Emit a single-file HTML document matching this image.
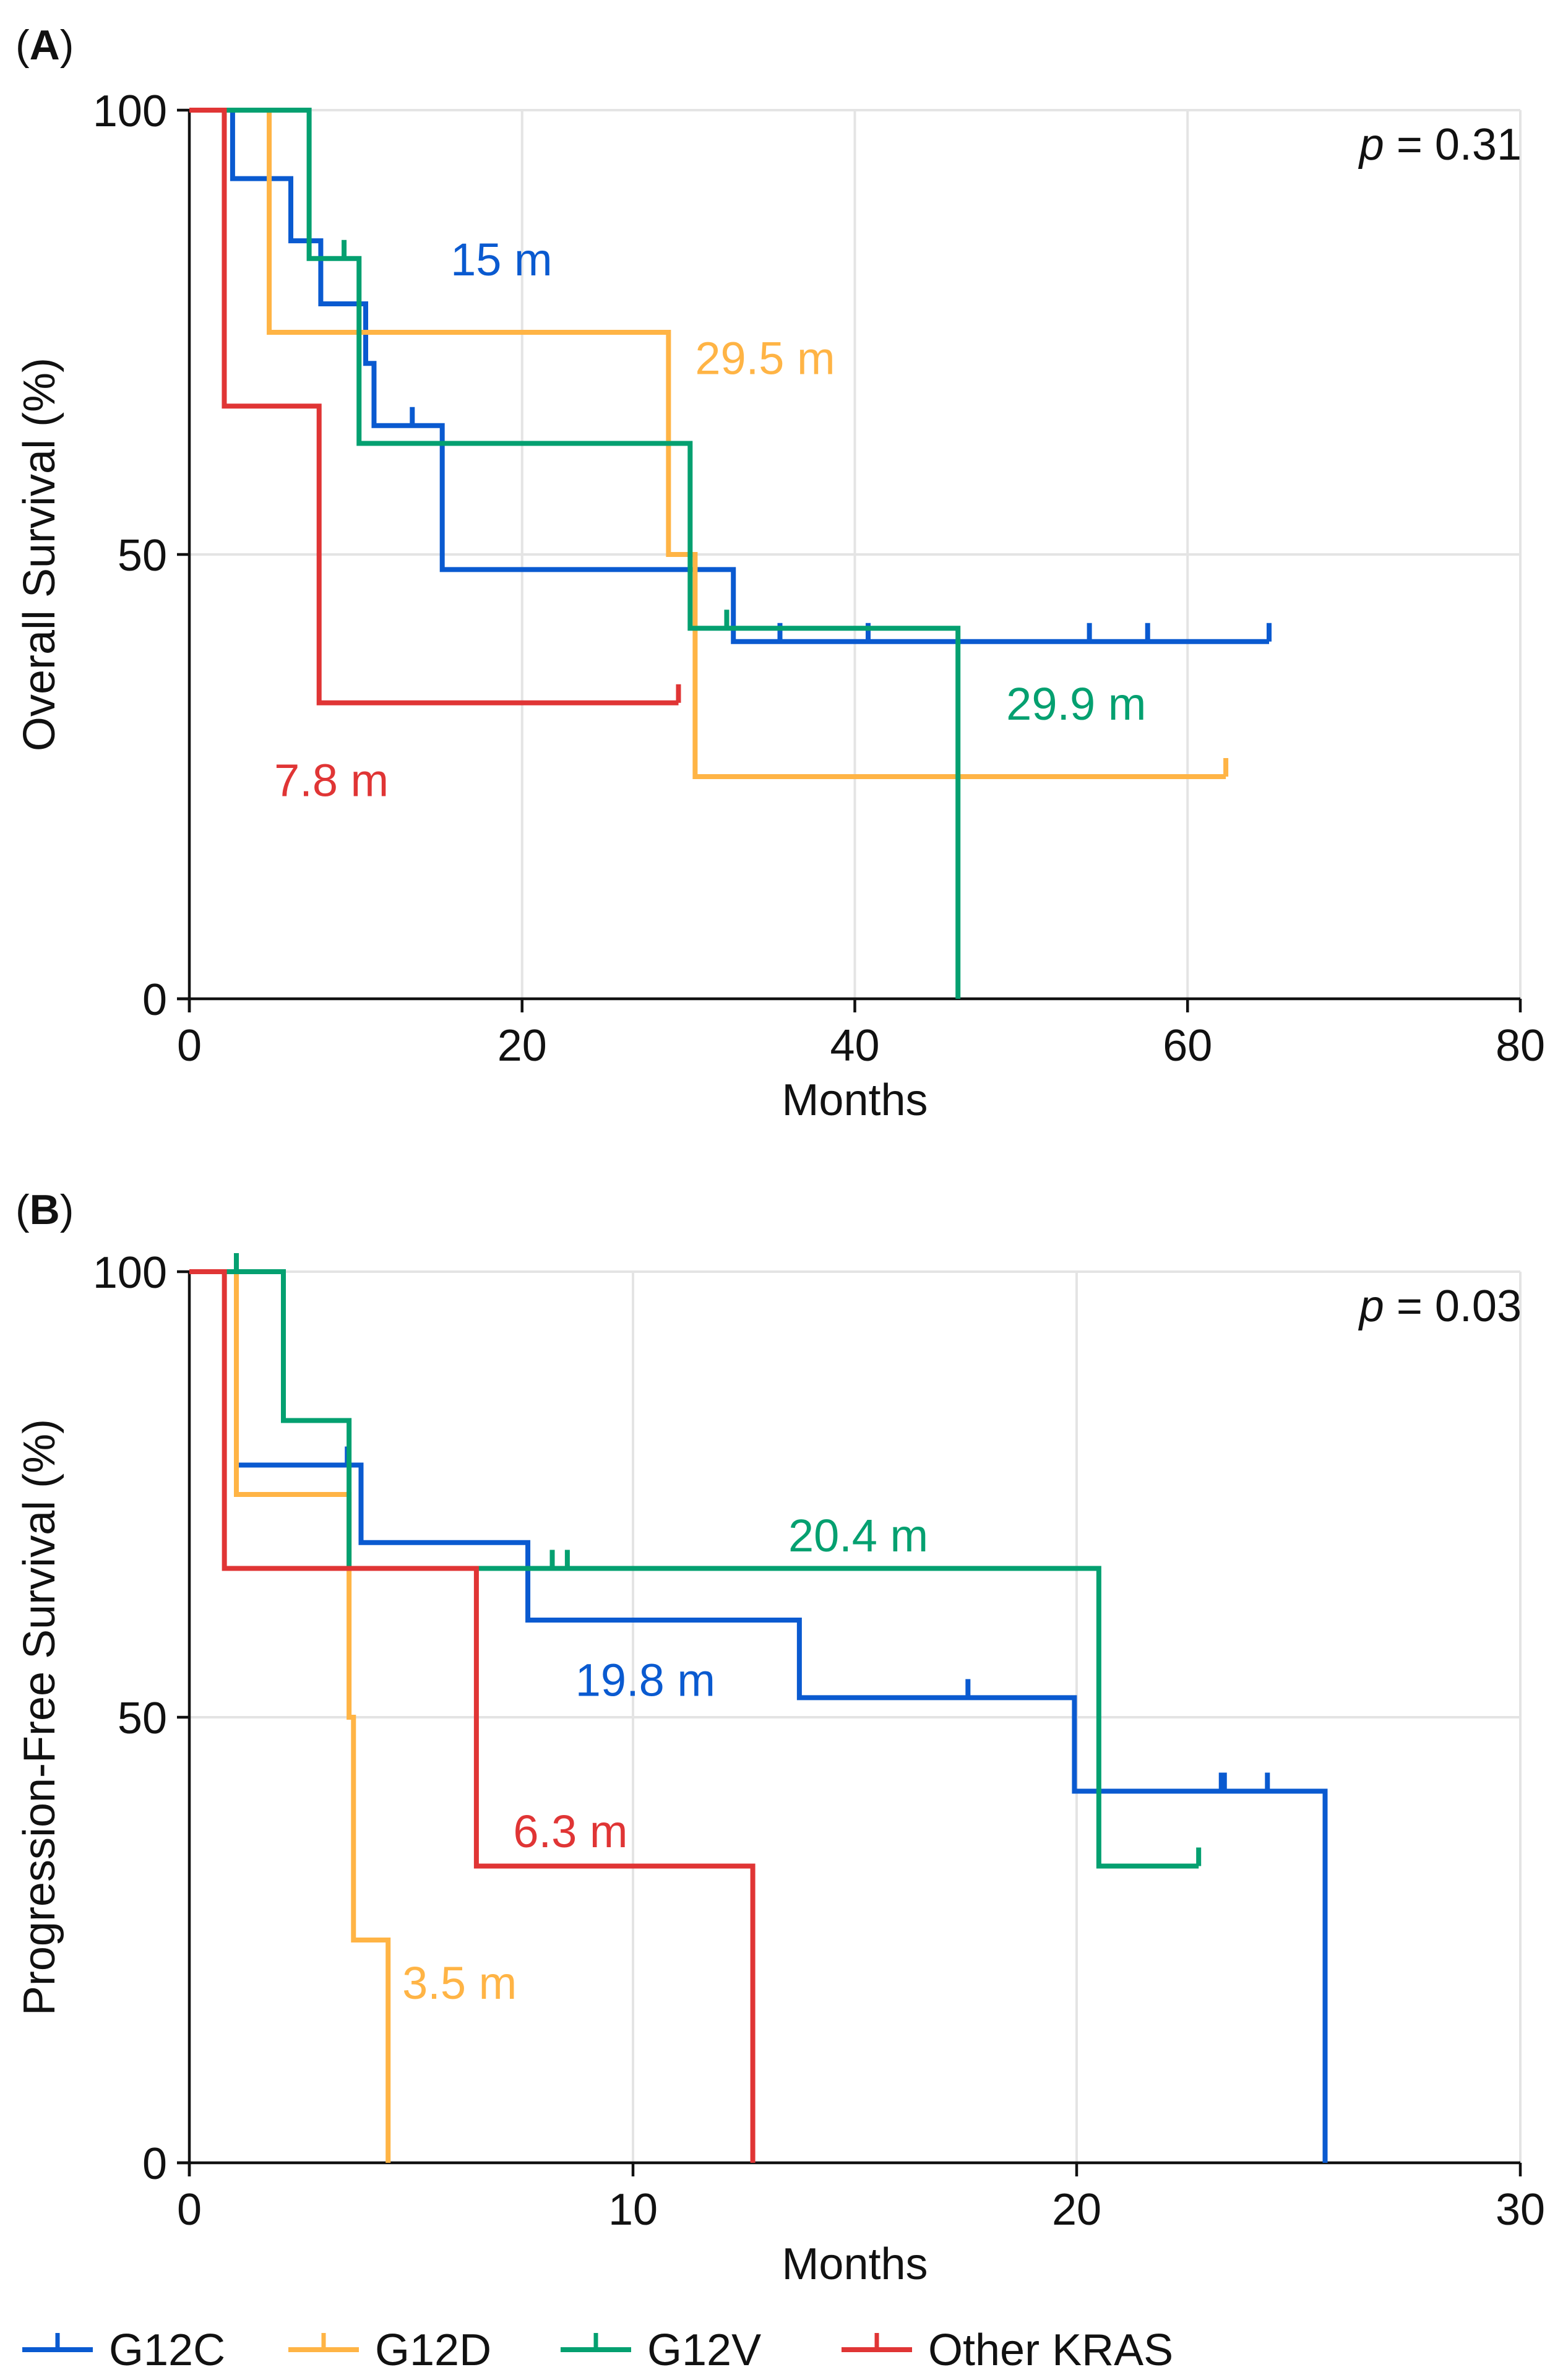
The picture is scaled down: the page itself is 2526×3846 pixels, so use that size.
<!DOCTYPE html>
<html><head><meta charset="utf-8"><style>
html,body{margin:0;padding:0;background:#fff;}
svg{display:block;font-family:"Liberation Sans",sans-serif;}
</style></head><body>
<svg id="fig" width="2526" height="3846" xmlns="http://www.w3.org/2000/svg"></svg>
<script>
const groups = ["G12C","G12D","G12V","Other KRAS"];
const colors = ["#0a5ad0","#ffb445","#04a070","#e03535"];
// Panel A: OS steps [time, survival%], censor times, end time
const osSteps = [
 [[0,100],[2.6,92.3],[6.1,85.3],[7.9,78.2],[10.6,71.5],[11.1,64.5],[15.2,48.3],[32.7,40.2]],
 [[0,100],[4.8,75],[28.8,50],[30.4,25]],
 [[0,100],[7.2,83.3],[10.2,62.5],[30.1,41.7],[46.2,0]],
 [[0,100],[2.1,66.7],[7.8,33.3]]
];
const osCensor = [[13.4,35.5,40.8,54.1,57.6,64.9],[62.3],[9.3,32.3],[29.4]];
const osEnd = [64.9,62.3,46.2,29.4];
const osMedLabels = ["15 m","29.5 m","29.9 m","7.8 m"];
const osMedLabelPos = [[15.7,81.4],[30.4,70.3],[49.1,31.4],[5.1,22.8]];
// Panel B: PFS
const pfsSteps = [
 [[0,100],[1.06,78.3],[3.87,69.6],[7.63,60.9],[13.75,52.2],[19.95,41.7],[25.6,0]],
 [[0,100],[1.06,75],[3.6,50],[3.7,25],[4.48,0]],
 [[0,100],[2.12,83.3],[3.6,66.7],[20.5,33.3]],
 [[0,100],[0.79,66.7],[6.47,33.3],[12.7,0]]
];
const pfsCensor = [[1.06,3.56,17.55,23.26,23.33,24.3],[],[1.06,8.18,8.52,22.75],[]];
const pfsEnd = [25.6,4.48,22.75,12.7];
const pfsMedLabels = ["19.8 m","3.5 m","20.4 m","6.3 m"];
const pfsMedLabelPos = [[8.7,52.4],[4.8,18.4],[13.5,68.6],[7.3,35.4]];
const osXTicks = [0,20,40,60,80];
const pfsXTicks = [0,10,20,30];
const yTicks = [0,50,100];

const NS="http://www.w3.org/2000/svg";
const svg=document.getElementById('fig');
function mk(tag,attrs,parent){const e=document.createElementNS(NS,tag);for(const k in attrs)e.setAttribute(k,attrs[k]);(parent||svg).appendChild(e);return e;}

function panel(cfg){
 const g=mk('g',{});
 
 
 const X=v=>cfg.x0+(v/cfg.xmax)*(cfg.x1-cfg.x0);
 const Y=v=>cfg.y0-(v/100)*(cfg.y0-cfg.y1);
 cfg.xTicks.forEach(t=>{if(t>0){const l=mk('line',{x1:X(t),x2:X(t),y1:Y(0),y2:Y(100),stroke:'#e4e4e4','stroke-width':4},g);
  }});
 yTicks.forEach(t=>{if(t>0){const l=mk('line',{x1:X(0),x2:X(cfg.xmax),y1:Y(t),y2:Y(t),stroke:'#e4e4e4','stroke-width':4},g);
  }});
 const ax=mk('line',{x1:X(0)-20,x2:X(cfg.xmax),y1:Y(0),y2:Y(0),stroke:'#111','stroke-width':4.5},g);
 
 const ay=mk('line',{x1:X(0),x2:X(0),y1:Y(0)+22,y2:Y(100),stroke:'#111','stroke-width':4.5},g);
 
 cfg.xTicks.forEach(t=>{
  const tk=mk('line',{x1:X(t),x2:X(t),y1:Y(0),y2:Y(0)+22,stroke:'#111','stroke-width':4.5},g);
  
  const tx=mk('text',{x:X(t),y:Y(0)+100,'font-size':72,'text-anchor':'middle',fill:'#111'},g);tx.textContent=t;
  
 });
 yTicks.forEach(t=>{
  const tk=mk('line',{x1:X(0)-20,x2:X(0),y1:Y(t),y2:Y(t),stroke:'#111','stroke-width':4.5},g);
  
  const tx=mk('text',{x:X(0)-36,y:Y(t)+26,'font-size':72,'text-anchor':'end',fill:'#111'},g);tx.textContent=t;
  
 });
 const xt=mk('text',{x:(X(0)+X(cfg.xmax))/2,y:Y(0)+188,'font-size':72,'text-anchor':'middle',fill:'#111'},g);xt.textContent='Months';
 
 const cy=(Y(0)+Y(100))/2;
 const yt=mk('text',{x:0,y:0,'font-size':72,'text-anchor':'middle',fill:'#111',transform:`translate(88,${cy}) rotate(-90)`},g);yt.textContent=cfg.ytitle;
 
 const pl=mk('text',{x:25,y:cfg.labelY,'font-size':68,fill:'#111'},g);
 pl.innerHTML='(<tspan font-weight="bold">'+cfg.label+'</tspan>)';
 
 const pv=mk('text',{x:X(cfg.xmax)+2,y:Y(100)+80,'font-size':72,'text-anchor':'end',fill:'#111'},g);
 pv.innerHTML='<tspan font-style="italic">p</tspan> = '+cfg.p;
 
 cfg.steps.forEach((st,i)=>{
  let d='M'+X(st[0][0])+','+Y(st[0][1]);
  for(let k=1;k<st.length;k++){d+=' H'+X(st[k][0])+' V'+Y(st[k][1]);}
  d+=' H'+X(cfg.end[i]);
  const p=mk('path',{d:d,fill:'none',stroke:colors[i],'stroke-width':8,'stroke-linejoin':'miter'},g);
  
  
  cfg.censor[i].forEach(c=>{
   let s=100;for(const q of st){if(q[0]<=c)s=q[1];}
   const cl=mk('line',{x1:X(c),x2:X(c),y1:Y(s),y2:Y(s)-30,stroke:colors[i],'stroke-width':8},g);
   
  });
  const ml=mk('text',{x:X(cfg.medPos[i][0]),y:Y(cfg.medPos[i][1]),'font-size':74,fill:colors[i]},g);
  ml.textContent=cfg.med[i];
  
 });
}
panel({name:'panel-a-overall-survival',x0:306,x1:2457,y0:1614,y1:178,xmax:80,xTicks:osXTicks,steps:osSteps,censor:osCensor,end:osEnd,med:osMedLabels,medPos:osMedLabelPos,ytitle:'Overall Survival (%)',label:'A',labelY:96,p:'0.31'});
panel({name:'panel-b-progression-free-survival',x0:306,x1:2457,y0:3495,y1:2055,xmax:30,xTicks:pfsXTicks,steps:pfsSteps,censor:pfsCensor,end:pfsEnd,med:pfsMedLabels,medPos:pfsMedLabelPos,ytitle:'Progression-Free Survival (%)',label:'B',labelY:1978,p:'0.03'});
const legX=[36,466,906,1360];
groups.forEach((gname,i)=>{
 const lg=mk('g',{});
 
 
 mk('line',{x1:legX[i],x2:legX[i]+114,y1:3797,y2:3797,stroke:colors[i],'stroke-width':8},lg);
 mk('line',{x1:legX[i]+57,x2:legX[i]+57,y1:3797,y2:3770,stroke:colors[i],'stroke-width':7},lg);
 const t=mk('text',{x:legX[i]+140,y:3822,'font-size':72,fill:'#111'},lg);t.textContent=gname;
});
</script>
</body></html>
